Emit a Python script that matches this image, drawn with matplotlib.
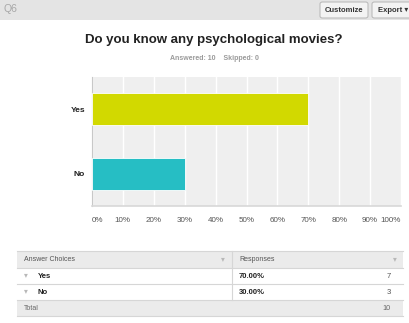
import matplotlib
matplotlib.use("Agg")
import matplotlib.pyplot as plt
from matplotlib.patches import Rectangle, FancyBboxPatch

plt.rcParams['font.family'] = ['Liberation Sans', 'DejaVu Sans']

# ---- data ----
question_id = "Q6"
title = "Do you know any psychological movies?"
answered = 10
skipped = 0
categories = ["No", "Yes"]
percents = [30, 70]
counts = [3, 7]
bar_colors = ["#26bec4", "#d2d900"]
xtick_values = [0, 10, 20, 30, 40, 50, 60, 70, 80, 90, 100]
xtick_labels = ["0%", "10%", "20%", "30%", "40%", "50%", "60%", "70%", "80%", "90%", "100%"]
table_rows = ["Yes", "No"]
table_pcts = ["70.00%", "30.00%"]
table_counts = ["7", "3"]

W, H = 409, 323
fig = plt.figure(figsize=(W / 100, H / 100), dpi=100)
fig.patch.set_facecolor("white")


def fx(x):
    return x / W


def fy(y):
    return 1 - y / H


def rect(x0, y0, x1, y1, fc, ec="none", lw=0.8, z=0):
    r = Rectangle((fx(x0), fy(y1)), fx(x1) - fx(x0), fy(y0) - fy(y1),
                  transform=fig.transFigure, facecolor=fc, edgecolor=ec,
                  linewidth=lw, zorder=z)
    fig.add_artist(r)


def hline(x0, x1, y, c="#d6d6d6", lw=0.8):
    fig.add_artist(plt.Line2D([fx(x0), fx(x1)], [fy(y), fy(y)],
                              transform=fig.transFigure, color=c, lw=lw))


def vline(x, y0, y1, c="#d6d6d6", lw=0.8):
    fig.add_artist(plt.Line2D([fx(x), fx(x)], [fy(y0), fy(y1)],
                              transform=fig.transFigure, color=c, lw=lw))


def txt(x, y, s, size=6, color="#333333", weight="normal", ha="left", va="center"):
    fig.text(fx(x), fy(y), s, fontsize=size, color=color, fontweight=weight,
             ha=ha, va=va)


# ---- top bar ----
rect(0, 0, W, 20, "#e4e4e4")
txt(3, 9.5, question_id, size=7.5, color="#a8a8a8")
for (x0, x1, label) in [(320, 368, "Customize"), (372, 412, "Export ▾")]:
    b = FancyBboxPatch((fx(x0), fy(18)), fx(x1) - fx(x0), fy(2) - fy(18),
                       boxstyle="round,pad=0,rounding_size=0.006",
                       transform=fig.transFigure, facecolor="#f3f3f3",
                       edgecolor="#b5b5b5", linewidth=0.7)
    fig.add_artist(b)
    txt((x0 + x1) / 2 if label == "Customize" else x0 + 6, 10, label, size=5.5,
        color="#333333", weight="bold",
        ha="center" if label == "Customize" else "left")

# ---- title ----
txt(214, 40, title, size=9.5, color="#222222", weight="bold", ha="center")
txt(214, 59, f"Answered: {answered}    Skipped: {skipped}", size=5,
    color="#9a9a9a", weight="bold", ha="center")

# ---- chart ----
ax_l, ax_r, ax_t, ax_b = 92, 401, 77, 206
ax = fig.add_axes([fx(ax_l), fy(ax_b), fx(ax_r) - fx(ax_l), fy(ax_t) - fy(ax_b)])
ax.set_facecolor("#efefef")
ax.barh(range(len(categories)), percents, height=0.5, color=bar_colors,
        edgecolor="white", linewidth=0.6, zorder=3)
ax.set_xlim(0, 100)
ax.set_ylim(-0.5, 1.5)
ax.set_xticks(xtick_values)
ax.set_xticklabels(xtick_labels)
for i, t in enumerate(ax.get_xticklabels()):
    if i == 0:
        t.set_ha("left")
    elif i == len(xtick_values) - 1:
        t.set_ha("right")
ax.grid(axis="x", color="white", linewidth=1.0, zorder=1)
ax.set_axisbelow(True)
ax.tick_params(axis="x", length=0, pad=8, labelsize=5.8, labelcolor="#555555")
ax.tick_params(axis="y", length=0, pad=5, labelsize=6, labelcolor="#222222")
ax.set_yticks(range(len(categories)))
ax.set_yticklabels(categories, fontweight="bold")
for s in ["top", "right"]:
    ax.spines[s].set_visible(False)
ax.spines["left"].set_color("#c8c8c8")
ax.spines["left"].set_linewidth(0.8)
ax.spines["bottom"].set_color("#d8d8d8")
ax.spines["bottom"].set_linewidth(1.2)

# ---- table ----
tl, tr = 17, 403
col = 232
rows_y = [251, 268, 284, 300, 316]
rect(tl, rows_y[0], tr, rows_y[1], "#ebebeb")
rect(tl, rows_y[3], tr, rows_y[4], "#ebebeb")
for y in rows_y:
    hline(tl, tr, y)
vline(col, rows_y[0], rows_y[3])

txt(24, 259.5, "Answer Choices", size=5, color="#555555")
txt(223, 259.5, "▾", size=5.5, color="#b8b8b8", ha="center")
txt(239, 259.5, "Responses", size=5, color="#555555")
txt(395, 259.5, "▾", size=5.5, color="#b8b8b8", ha="center")
for i, (lab, pct, cnt) in enumerate(zip(table_rows, table_pcts, table_counts)):
    yc = (rows_y[i + 1] + rows_y[i + 2]) / 2
    txt(26, yc, "▾", size=5.5, color="#b8b8b8", ha="center")
    txt(38, yc, lab, size=5.6, color="#222222", weight="bold")
    txt(239, yc, pct, size=5.5, color="#222222", weight="bold")
    txt(391, yc, cnt, size=5.5, color="#555555", ha="right")
txt(24, 308, "Total", size=5, color="#666666")
txt(391, 308, str(answered), size=5.2, color="#666666", ha="right")

fig.savefig("out.png", dpi=100, facecolor="white")
